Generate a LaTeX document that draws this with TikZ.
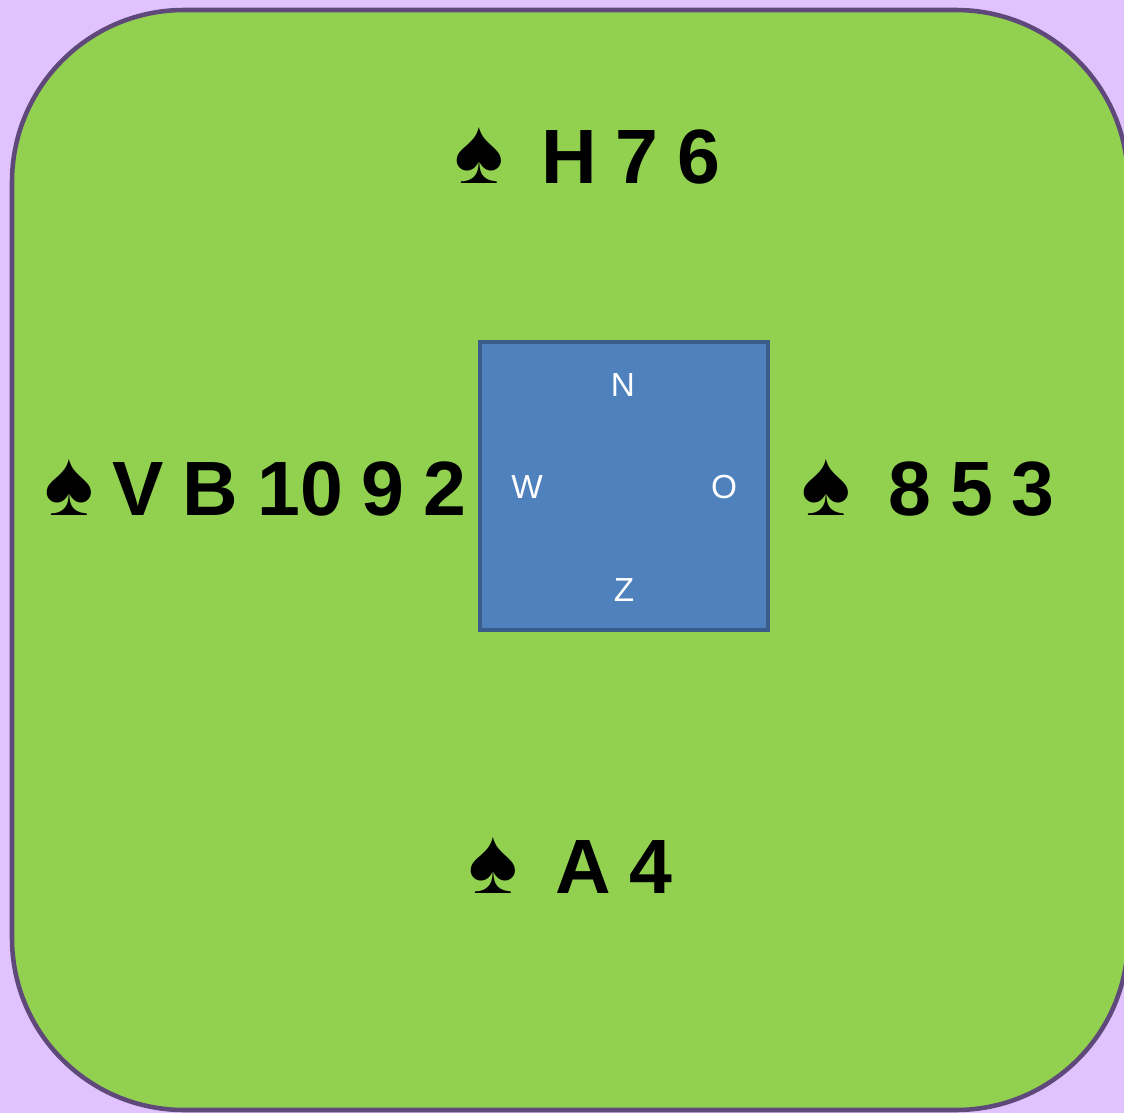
\documentclass[tikz,border=0pt]{standalone}
\usepackage{fontspec}
\setmainfont{Liberation Sans}
\newfontfamily\handfont[WordSpace=0.88]{Liberation Sans}
\usetikzlibrary{positioning}
\definecolor{lavender}{HTML}{E0C3FE}
\definecolor{felt}{HTML}{92D050}
\definecolor{feltedge}{HTML}{5F497A}
\definecolor{tableblue}{HTML}{4F81BD}
\definecolor{tableedge}{HTML}{385D8A}
\newcommand{\suitspade}{{\fontsize{70}{70}\selectfont ♠}}
\tikzstyle{board} = [draw=feltedge, line width=3.4pt, fill=felt, rounded corners=129pt]
\tikzstyle{compass} = [rectangle, draw=tableedge, line width=3pt, fill=tableblue, minimum width=216pt, minimum height=216pt]
\tikzstyle{wind} = [text=white, inner sep=0pt, font=\fontsize{25}{25}\selectfont]
\tikzstyle{hand} = [inner sep=0pt, anchor=base west, font=\handfont\fontsize{57.75}{60}\selectfont\bfseries]

\begin{document}
\begin{tikzpicture}[x=0.75pt, y=-0.75pt]
    \fill[lavender] (0,0) rectangle (1124,1113);
    \useasboundingbox (0,0) rectangle (1124,1113);
    \draw[board] (12,10) rectangle (1128,1110);

    \node[compass](square) at (624,486){};
    \node[wind](north) at (623,385){N};
    \node[wind](west) at (527,487){W};
    \node[wind](east) at (724,487){O};
    \node[wind](south) at (624,590){Z};

    \node[hand](handN) at (454,183){\suitspade~~H 7 6};
    \node[hand](handW) at (44,515){\suitspade~V B 10 9 2};
    \node[hand](handE) at (801,515){\suitspade~~8 5 3};
    \node[hand](handS) at (468,893){\suitspade~~A 4};
\end{tikzpicture}
\end{document}
